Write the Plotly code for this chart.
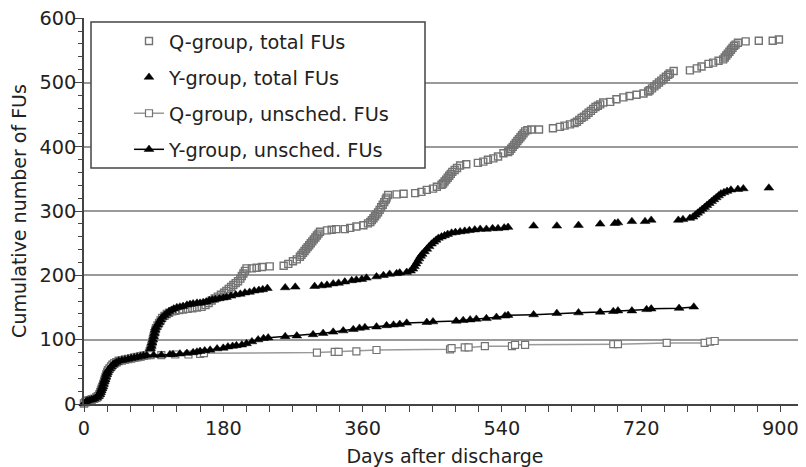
import plotly.graph_objects as go

# ---------------- data ----------------
# shared early segment (all four curves overlap during the first ~80 days)
early_days = [0, 2, 4, 7, 10, 13, 16, 18, 20, 21, 22, 23, 24, 25, 26, 27, 28, 29, 30, 31,
              33, 35, 37, 39, 42, 45, 49, 53, 57, 61, 65, 69, 73, 77, 81]
early_vals = [1, 3, 5, 6, 7, 8, 10, 12, 15, 18, 21, 24, 27, 31, 35, 38, 42, 46, 49, 52,
              55, 58, 61, 63, 65, 67, 68, 69, 70, 71, 72, 73, 74, 75, 76]

# Q-group, total FUs
qt_days = [84, 85, 86, 87, 88, 89, 90, 91, 92, 93, 95, 97, 99, 101, 104, 107, 110, 114, 118, 123,
           128, 134, 140, 146, 152, 157, 161, 165, 169, 173, 177, 181, 184, 187, 190, 193, 196, 199, 202, 204,
           206, 208, 210, 217, 223, 230, 240, 258, 264, 270, 275, 279, 281, 283, 285, 287, 289, 291, 293, 295,
           297, 299, 301, 303, 305, 314, 320, 326, 337, 344, 352, 361, 367, 370, 372, 374, 376, 378, 380, 382,
           384, 386, 388, 390, 391, 393, 404, 413, 428, 436, 443, 451, 456, 462, 464, 466, 468, 470, 472, 474,
           476, 479, 482, 486, 494, 509, 516, 522, 529, 535, 542, 548, 550, 552, 554, 556, 558, 560, 562, 564,
           566, 568, 570, 573, 578, 588, 606, 615, 621, 628, 634, 637, 640, 643, 646, 649, 652, 655, 658, 661,
           664, 667, 671, 680, 688, 697, 705, 714, 723, 729, 731, 734, 737, 740, 743, 746, 749, 752, 755, 757,
           762, 783, 792, 798, 807, 813, 820, 826, 828, 830, 832, 834, 836, 838, 840, 842, 845, 855, 872, 890,
           898, 929]
qt_vals = [79, 82, 86, 90, 95, 100, 105, 110, 114, 118, 122, 126, 130, 134, 137, 140, 142, 144, 145, 146,
           147, 148, 149, 150, 151, 154, 157, 161, 164, 167, 170, 173, 176, 179, 182, 185, 188, 191, 195, 199,
           203, 207, 211, 211, 212, 213, 214, 215, 218, 222, 225, 229, 232, 235, 238, 241, 244, 247, 250, 253,
           256, 259, 262, 265, 268, 270, 271, 272, 272, 274, 276, 278, 281, 283, 286, 289, 292, 295, 298, 302,
           306, 310, 314, 318, 321, 325, 326, 327, 328, 330, 333, 335, 338, 341, 343, 346, 349, 352, 355, 358,
           361, 364, 367, 371, 373, 375, 377, 380, 382, 385, 390, 392, 394, 397, 400, 403, 406, 409, 412, 415,
           418, 421, 424, 426, 427, 427, 429, 431, 433, 435, 437, 439, 442, 445, 447, 450, 453, 456, 459, 462,
           464, 466, 469, 470, 474, 477, 479, 481, 483, 486, 488, 491, 494, 497, 500, 503, 506, 509, 512, 514,
           518, 519, 522, 525, 529, 531, 534, 536, 539, 542, 545, 548, 551, 554, 557, 559, 562, 564, 565, 565,
           567, 567]

# Y-group, total FUs
yt_days = [84, 85, 86, 87, 88, 89, 90, 91, 92, 93, 95, 97, 99, 101, 104, 107, 110, 113, 116, 120,
           124, 128, 133, 137, 141, 146, 150, 154, 158, 162, 166, 170, 175, 180, 184, 190, 196, 202, 208, 214,
           220, 226, 231, 237, 260, 273, 298, 307, 314, 322, 329, 337, 346, 352, 359, 365, 378, 387, 395, 404,
           408, 417, 422, 425, 427, 429, 431, 433, 435, 437, 440, 443, 446, 449, 452, 455, 458, 462, 466, 470,
           475, 480, 486, 492, 498, 505, 512, 520, 528, 535, 543, 548, 581, 611, 639, 667, 686, 690, 708, 725,
           733, 768, 774, 783, 787, 790, 793, 796, 799, 802, 805, 808, 811, 814, 817, 820, 823, 827, 831, 836,
           845, 852, 885]
yt_vals = [79, 82, 86, 90, 95, 100, 105, 110, 115, 119, 123, 127, 131, 135, 138, 141, 144, 146, 148, 150,
           151, 152, 154, 155, 156, 157, 157, 158, 159, 161, 162, 163, 164, 165, 166, 168, 170, 171, 173, 174,
           176, 177, 178, 180, 181, 182, 183, 184, 185, 187, 188, 190, 192, 193, 194, 196, 198, 200, 202, 203,
           204, 205, 207, 210, 214, 218, 222, 226, 230, 233, 237, 241, 245, 249, 252, 255, 258, 260, 262, 264,
           266, 267, 268, 269, 270, 271, 272, 272, 273, 273, 274, 275, 277, 277, 278, 280, 281, 282, 284, 284,
           286, 286, 287, 289, 291, 294, 297, 300, 303, 306, 309, 312, 315, 318, 321, 324, 327, 329, 331, 333,
           334, 335, 336]

# Q-group, unscheduled FUs
qu_days = [86, 100, 118, 135, 150, 155, 301, 324, 329, 352, 378, 473, 475, 492, 497, 518, 553, 557, 570,
           684, 690, 753, 802, 809, 815]
qu_vals = [76, 76, 77, 77, 78, 79, 80, 81, 81, 82, 84, 85, 87, 88, 88, 90, 90, 92, 92,
           93, 93, 95, 95, 97, 98]

# Y-group, unscheduled FUs
yu_days = [90, 100, 111, 115, 124, 133, 141, 146, 150, 156, 163, 172, 180, 186, 192, 197, 204, 210, 217,
           225, 232, 238, 260, 275, 296, 309, 322, 335, 348, 356, 363, 378, 391, 400, 408, 417, 443, 451,
           481, 490, 499, 507, 520, 533, 544, 548, 581, 611, 639, 667, 684, 690, 708, 727, 733, 769, 788]
yu_vals = [76, 76, 77, 77, 78, 79, 80, 81, 82, 83, 84, 86, 87, 89, 90, 91, 92, 94, 97,
           100, 102, 103, 105, 106, 108, 110, 112, 114, 116, 118, 119, 120, 122, 123, 124, 126, 127, 128,
           129, 130, 131, 132, 133, 135, 137, 138, 139, 141, 142, 143, 144, 145, 145, 147, 148, 149, 151]

series_names = ["Q-group, total FUs", "Y-group, total FUs",
                "Q-group, unsched. FUs", "Y-group, unsched. FUs"]
x_ticks = [0, 180, 360, 540, 720, 900]
y_ticks = [0, 100, 200, 300, 400, 500, 600]

# ---------------- styling ----------------
GRAY = "#737373"
LINEGRAY = "#9a9a9a"
BLACK = "#000000"
FONT = "DejaVu Sans"
FS = 19.3     # tick labels
TFS = 19.0    # axis titles
LFS = 19.3    # legend

sq_open = dict(symbol="square-open", size=7, color=GRAY, line=dict(color=GRAY, width=1.4))
sq = dict(symbol="square", size=7, color="white", line=dict(color=GRAY, width=1.2))
tri = dict(symbol="triangle-up", size=8.5, color=BLACK, line=dict(color=BLACK, width=0.5))

fig = go.Figure()
fig.add_trace(go.Scatter(x=early_days + qt_days, y=early_vals + qt_vals, mode="markers",
                         name=series_names[0], marker=sq_open, cliponaxis=False, legendgroup="a"))
fig.add_trace(go.Scatter(x=early_days + yt_days, y=early_vals + yt_vals, mode="markers",
                         name=series_names[1], marker=tri, cliponaxis=False, legendgroup="b"))
fig.add_trace(go.Scatter(x=early_days + qu_days, y=early_vals + qu_vals, mode="lines+markers",
                         name=series_names[2], marker=sq, line=dict(color=LINEGRAY, width=1.5),
                         cliponaxis=False, legendgroup="c"))
fig.add_trace(go.Scatter(x=early_days + yu_days, y=early_vals + yu_vals, mode="lines+markers",
                         name=series_names[3], marker=tri, line=dict(color=BLACK, width=1.5),
                         cliponaxis=False, legendgroup="d"))

# the page body has an 8px default margin: the figure is sized/offset to compensate
OFF = 8
W, H = 806 - OFF, 467 - OFF
L, R, T, B = 84 - OFF, 0, 18 - OFF, 63
pw, ph = W - L - R, H - T - B

def px_x(p):
    # p is a page pixel x
    return (p - OFF - L) / pw

def px_y(p):
    # p is a page pixel y
    return (H - B - (p - OFF)) / ph

fig.update_layout(
    width=W, height=H,
    margin=dict(l=L, r=R, t=T, b=B, pad=0),
    paper_bgcolor="white", plot_bgcolor="white",
    font=dict(family=FONT, size=FS, color="#222222"),
    showlegend=True,
    legend=dict(x=px_x(129), y=px_y(22), xanchor="left", yanchor="top",
                bgcolor="rgba(0,0,0,0)", borderwidth=0,
                traceorder="grouped", tracegroupgap=8,
                font=dict(family=FONT, size=LFS, color="#222222")),
    shapes=[dict(type="rect", xref="paper", yref="paper", layer="above",
                 x0=px_x(91), x1=px_x(425), y0=px_y(168), y1=px_y(22),
                 fillcolor="white", line=dict(color="#444444", width=1.5))],
    xaxis=dict(range=[0, 933], tickmode="array", tickvals=x_ticks,
               ticktext=[str(v) for v in x_ticks], automargin=False,
               ticklabeloverflow="allow",
               ticks="outside", ticklen=6, tickwidth=1.3, tickcolor="#444444",
               showline=True, linecolor="#444444", linewidth=1.5,
               showgrid=False, zeroline=False,
               minor=dict(dtick=30, tick0=0, ticks="outside", ticklen=6, tickwidth=1.2,
                          tickcolor="#444444", showgrid=False),
               title=dict(text="Days after discharge", standoff=16,
                          font=dict(family=FONT, size=TFS))),
    yaxis=dict(range=[0, 600.4], tickmode="array", tickvals=y_ticks,
               ticktext=[str(v) for v in y_ticks], automargin=False,
               ticklabeloverflow="allow",
               ticks="outside", ticklen=8, tickwidth=1.3, tickcolor="#444444",
               ticklabelstandoff=-6,
               showline=True, linecolor="#444444", linewidth=1.5,
               showgrid=True, gridcolor="#9a9a9a", gridwidth=1.5, zeroline=False,
               minor=dict(dtick=20, tick0=0, ticks="outside", ticklen=4, tickwidth=1.2,
                          tickcolor="#444444", showgrid=False),
               title=dict(text="Cumulative number of FUs", standoff=9,
                          font=dict(family=FONT, size=TFS))),
)

fig.write_html("out.html")
